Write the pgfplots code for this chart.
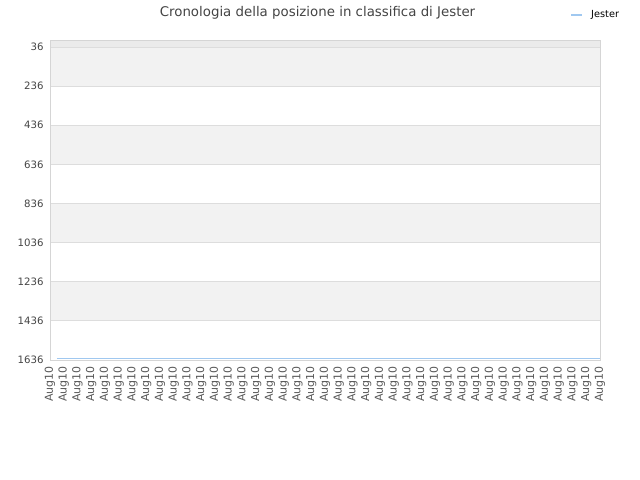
\documentclass[border=0pt]{standalone}
\usepackage{pgfplots}
\pgfplotsset{compat=1.18}
\usepackage{fontspec}
\setmainfont{DejaVu Sans}

\definecolor{band}{HTML}{F2F2F2}
\definecolor{topband}{HTML}{EBEBEB}
\definecolor{gridc}{HTML}{DDDDDD}
\definecolor{framec}{HTML}{D5D5D5}
\definecolor{txt}{HTML}{444444}
\definecolor{linec}{HTML}{A0C8F0}

\begin{document}
\begin{tikzpicture}[x=1bp,y=1bp]
  \useasboundingbox (0,0) rectangle (640,480);
  \node[txt, font=\fontsize{13.4}{15}\selectfont] at (317.5,467) {Cronologia della posizione in classifica di Jester};
  \draw[linec, line width=1.3bp] (571,465) -- (582,465);
  \node[anchor=west, inner sep=0pt, font=\fontsize{9.8}{11}\selectfont] at (591,465) {Jester};
  \begin{axis}[
      at={(50bp,120bp)}, anchor=south west,
      scale only axis,
      width=550bp, height=320bp,
      xmin=0, xmax=40,
      ymin=0, ymax=1636,
      y dir=reverse,
      xtick={0,...,40},
      xticklabel={Aug10},
      xticklabel shift=3bp,
      yticklabel shift=3bp,
      xticklabel style={rotate=90, anchor=east, font=\fontsize{11}{12}\selectfont, text=txt!90},
      ytick={36,236,436,636,836,1036,1236,1436,1636},
      yticklabel style={font=\fontsize{10.2}{11}\selectfont, text=txt},
      /pgf/number format/assume math mode=true,
      /pgf/number format/1000 sep={},
      major tick length=0pt,
      ymajorgrids,
      grid style={gridc, line width=0.8bp},
      axis line style={framec, line width=0.8bp},
      tick style={draw=none},
      axis on top,
    ]
    \fill[topband] (axis cs:0,0) rectangle (axis cs:40,36);
    \fill[band] (axis cs:0,36) rectangle (axis cs:40,236);
    \fill[band] (axis cs:0,436) rectangle (axis cs:40,636);
    \fill[band] (axis cs:0,836) rectangle (axis cs:40,1036);
    \fill[band] (axis cs:0,1236) rectangle (axis cs:40,1436);
    \addplot[linec, line width=1.1bp, mark=none] coordinates {
      (0.5,1627)(1,1627)(2,1627)(3,1627)(4,1627)(5,1627)(6,1627)(7,1627)
      (8,1627)(9,1627)(10,1627)(11,1627)(12,1627)(13,1627)(14,1627)(15,1627)
      (16,1627)(17,1627)(18,1627)(19,1627)(20,1627)(21,1627)(22,1627)(23,1627)
      (24,1627)(25,1627)(26,1627)(27,1627)(28,1627)(29,1627)(30,1627)(31,1627)
      (32,1627)(33,1627)(34,1627)(35,1627)(36,1627)(37,1627)(38,1627)(39,1627)
      (40,1627)
    };
  \end{axis}
\end{tikzpicture}
\end{document}
